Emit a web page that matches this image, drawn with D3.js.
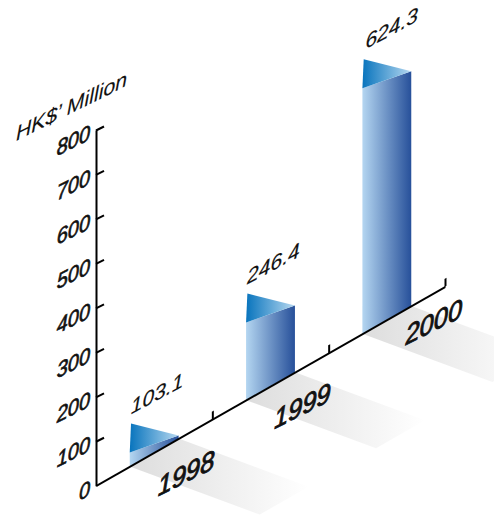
<!DOCTYPE html>
<html>
<head>
<meta charset="utf-8">
<script src="https://cdn.jsdelivr.net/npm/d3@7"></script>
<style>
  html, body { margin: 0; padding: 0; background: #fff; }
  text { font-family: "Liberation Sans", Arial, sans-serif; font-style: italic; fill: #111; stroke: #111; }
</style>
</head>
<body>
<div id="chart"></div>
<script>
var years = ["1998", "1999", "2000"];
var values = [103.1, 246.4, 624.3];
var valueLabels = ["103.1", "246.4", "624.3"];
var yTicks = [0, 100, 200, 300, 400, 500, 600, 700, 800];

var width = 494;
var height = 518;

var originX = 96;
var originY = 485.7;
var axisLength = 349;
var slope = 199 / 349;

var svg = d3.select("#chart")
    .append("svg")
    .attr("width", width)
    .attr("height", height)
    .style("display", "block");

// position along the floor axis
var xPos = d3.scaleLinear().domain([0, 3]).range([0, axisLength]);
var band = d3.scaleBand().domain(years).range([0, 3]).paddingInner(0.58).paddingOuter(0.29);
var yScale = d3.scaleLinear().domain([0, 800]).range([originY, 130]);

function floorX(t) { return originX + xPos(t); }
function floorY(t) { return originY - xPos(t) * slope; }
function barHeight(v) { return originY - yScale(v); }

// sheared text: baseline climbs to the right, uprights stay vertical
function iso(x, y, sx, rise, sy) {
    return "matrix(" + sx + "," + (-rise * sx) + ",0," + sy + "," + x + "," + y + ")";
}

var defs = svg.append("defs");

function gradient(id, from, to) {
    var g = defs.append("linearGradient").attr("id", id)
        .attr("x1", 0).attr("x2", 1).attr("y1", 0).attr("y2", 0);
    g.append("stop").attr("offset", "0%").attr("stop-color", from);
    g.append("stop").attr("offset", "100%").attr("stop-color", to);
}
gradient("faceGrad", "#b4d6f1", "#27509a");
gradient("topGrad", "#0874bd", "#b6d8f0");
gradient("shadowGrad", "#dddddd", "#ffffff");

var bars = svg.selectAll(".bar")
    .data(years)
    .enter()
    .append("g")
    .attr("class", "bar");

// floor shadows, running off down the right
bars.append("path")
    .attr("fill", "url(#shadowGrad)")
    .attr("d", function (d) {
        var t0 = band(d), t1 = t0 + band.bandwidth();
        var run = 130, drop = 130 * 0.37;
        return "M" + floorX(t1) + "," + floorY(t1) +
            "L" + (floorX(t1) + run) + "," + (floorY(t1) + drop) +
            "L" + (floorX(t0) + run) + "," + (floorY(t0) + drop) +
            "L" + floorX(t0) + "," + floorY(t0) + "Z";
    });

// front face
bars.append("path")
    .attr("fill", "url(#faceGrad)")
    .attr("d", function (d, i) {
        var t0 = band(d), t1 = t0 + band.bandwidth();
        var apex = floorY(t0) + 3 - barHeight(values[i]);
        return "M" + floorX(t0) + "," + (apex + 29) +
            "L" + floorX(t1) + "," + (apex + 12) +
            "L" + floorX(t1) + "," + floorY(t1) +
            "L" + floorX(t0) + "," + floorY(t0) + "Z";
    });

// top triangle
bars.append("path")
    .attr("fill", "url(#topGrad)")
    .attr("d", function (d, i) {
        var t0 = band(d), t1 = t0 + band.bandwidth();
        var apex = floorY(t0) + 3 - barHeight(values[i]);
        return "M" + (floorX(t0) + 1.3) + "," + apex +
            "L" + floorX(t1) + "," + (apex + 12) +
            "L" + floorX(t0) + "," + (apex + 29) + "Z";
    });

bars.append("text")
    .attr("font-size", 18)
    .attr("stroke-width", 0.15)
    .attr("transform", function (d, i) {
        var t0 = band(d);
        var apex = floorY(t0) + 3 - barHeight(values[i]);
        return iso(floorX(t0) + 1 + (i === 2 ? 2 : 0), apex - 9 - (i === 2 ? 1 : 0), 1.17, 0.54, 1.12);
    })
    .text(function (d, i) { return valueLabels[i]; });

// the last year label sits further up the axis than the other two
bars.append("text")
    .attr("font-size", 25)
    .attr("stroke-width", 0.8)
    .attr("transform", function (d, i) {
        var t0 = band(d);
        var nudge = i === 2 ? 15 : 0;
        return iso(floorX(t0) + 28 + nudge, floorY(t0) + 30 - i - nudge * 1.1, 1.02, 0.5, 1.08);
    })
    .text(function (d) { return d; });

// value axis
var yAxis = svg.append("g")
    .attr("transform", "translate(" + originX + ",0)")
    .call(d3.axisLeft(yScale).tickValues(yTicks).tickSizeOuter(0));
yAxis.select(".domain").attr("stroke", "#000").attr("stroke-width", 2);
yAxis.selectAll(".tick line")
    .attr("x2", 8).attr("y2", -4)
    .attr("stroke", "#000").attr("stroke-width", 2);
yAxis.selectAll(".tick text")
    .attr("x", 0).attr("dy", null).attr("y", 0)
    .attr("font-size", 20)
    .attr("font-family", null)
    .attr("stroke-width", 0.6)
    .attr("text-anchor", "end")
    .attr("transform", iso(-6, 9, 1, 0.5, 1.08));
yAxis.selectAll(".tick line").filter(function (d) { return d === 0; }).remove();

// floor axis, drawn flat then sheared so its ticks stay upright
var xAxis = svg.append("g")
    .attr("transform", "matrix(1," + (-slope) + ",0,1," + originX + "," + originY + ")")
    .call(d3.axisBottom(xPos).tickValues([1, 2, 3]).tickFormat("").tickSize(-8).tickSizeOuter(0));
xAxis.select(".domain").attr("stroke", "#000").attr("stroke-width", 2.2);
xAxis.selectAll(".tick line").attr("stroke", "#000").attr("stroke-width", 2);

svg.append("text")
    .attr("font-size", 19)
    .attr("stroke-width", 0.1)
    .attr("transform", iso(16, 141, 1.12, 0.5, 1.08))
    .text("HK$’ Million");
</script>
</body>
</html>
